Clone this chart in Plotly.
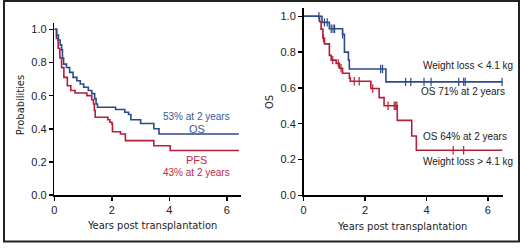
import plotly.graph_objects as go

W, H = 520, 249
BLUE = "#2b4a8c"
RED = "#b51e38"
TXT = "#222222"
ARIAL = "Liberation Sans, Arial, sans-serif"
NARROW = "Liberation Sans Narrow, Arial Narrow, DejaVu Sans Condensed, sans-serif"

# ---- Left panel: OS and PFS (years, probability) ----
os_t = [0, 0.08, 0.14, 0.2, 0.25, 0.28, 0.32, 0.42, 0.53, 0.65, 0.78, 0.9, 1.02, 1.18, 1.3,
        1.4, 1.45, 1.5, 2.13, 2.45, 2.58, 2.66, 3.0, 3.46, 3.64, 6.42]
os_p = [1.0, 0.965, 0.935, 0.906, 0.876, 0.827, 0.79, 0.77, 0.74, 0.71, 0.69, 0.67, 0.651, 0.631, 0.612,
        0.582, 0.55, 0.53, 0.516, 0.5, 0.486, 0.455, 0.432, 0.4, 0.369, 0.369]
pfs_t = [0, 0.07, 0.13, 0.19, 0.25, 0.33, 0.45, 0.57, 0.72, 1.13, 1.3, 1.36, 1.39, 1.42, 1.86, 1.93,
         2.0, 2.02, 2.3, 2.47, 3.46, 4.03, 6.42]
pfs_p = [1.0, 0.945, 0.886, 0.827, 0.769, 0.71, 0.66, 0.631, 0.616, 0.6, 0.575, 0.55, 0.51, 0.47, 0.455, 0.44,
         0.43, 0.382, 0.369, 0.329, 0.298, 0.269, 0.269]

# ---- Right panel: OS by weight loss ----
lo_t = [0, 0.6, 0.84, 1.27, 1.33, 1.46, 1.49, 2.68, 6.47]
lo_p = [1.0, 0.966, 0.93, 0.899, 0.8, 0.755, 0.706, 0.634, 0.634]
lo_cens = [0.5, 0.68, 0.77, 0.9, 0.96, 1.01, 1.27, 2.51, 2.57, 3.32, 3.49, 3.92, 4.15, 5.05, 5.21, 5.26, 6.46]
hi_t = [0, 0.52, 0.57, 0.63, 0.68, 0.84, 0.9, 1.06, 1.17, 1.27, 1.49, 1.52, 2.19, 2.46, 2.62,
        3.05, 3.52, 3.67, 6.47]
hi_p = [1.0, 0.97, 0.928, 0.877, 0.846, 0.782, 0.755, 0.737, 0.71, 0.682, 0.655, 0.637, 0.597, 0.546, 0.501,
        0.419, 0.332, 0.252, 0.252]
hi_cens = [0.65, 0.95, 1.13, 1.22, 1.65, 1.81, 2.25, 2.75, 2.95, 3.0, 3.04, 4.87, 5.21]

x_ticks = [0, 2, 4, 6]
y_ticks = [0, 0.2, 0.4, 0.6, 0.8, 1.0]


def step_at(ts, ps, t):
    v = ps[0]
    for ti, pi in zip(ts, ps):
        if ti <= t:
            v = pi
    return v


fig = go.Figure()

def curve(t, p, color, xa, ya):
    fig.add_trace(go.Scatter(x=t, y=p, mode="lines", line=dict(color=color, width=1.6, shape="hv"),
                             xaxis=xa, yaxis=ya, showlegend=False, hoverinfo="skip"))

def cens(ts, ps, c, color, xa, ya):
    fig.add_trace(go.Scatter(x=c, y=[step_at(ts, ps, v) for v in c], mode="markers",
                             marker=dict(symbol="line-ns", size=6, line=dict(color=color, width=1.2)),
                             xaxis=xa, yaxis=ya, showlegend=False, hoverinfo="skip"))

curve(pfs_t, pfs_p, RED, "x", "y")
curve(os_t, os_p, BLUE, "x", "y")
curve(hi_t, hi_p, RED, "x2", "y2")
curve(lo_t, lo_p, BLUE, "x2", "y2")
cens(hi_t, hi_p, hi_cens, RED, "x2", "y2")
cens(lo_t, lo_p, lo_cens, BLUE, "x2", "y2")

axis_common = dict(showline=True, linecolor="black", linewidth=1.6, ticks="outside", ticklen=4,
                   tickwidth=1.4, tickcolor="black", showgrid=False, zeroline=False,
                   tickfont=dict(family=ARIAL, size=11, color=TXT))

fig.update_layout(
    width=W, height=H, margin=dict(l=0, r=0, t=0, b=0),
    paper_bgcolor="white", plot_bgcolor="white",
    xaxis=dict(domain=[51.7 / W, 239.6 / W], range=[0, 6.5], tickvals=x_ticks, anchor="y", **axis_common),
    yaxis=dict(domain=[(H - 200) / H, (H - 23.2) / H], range=[0, 1.04], tickvals=y_ticks,
               tickformat=".1f", anchor="x", **axis_common),
    xaxis2=dict(domain=[302.3 / W, 503.2 / W], range=[0, 6.5], tickvals=x_ticks, anchor="y2", **axis_common),
    yaxis2=dict(domain=[(H - 200.3) / H, (H - 8.4) / H], range=[0, 1.045], tickvals=y_ticks,
                tickformat=".1f", anchor="x2", **axis_common),
)

ann = []
def a(text, x, y, xref, yref, color=TXT, family=ARIAL, size=10, xanchor="center", angle=0):
    ann.append(dict(text=text, x=x, y=y, xref=xref, yref=yref, showarrow=False, xanchor=xanchor,
                    yanchor="middle", textangle=angle, font=dict(family=family, size=size, color=color)))

a("53% at 2 years", 4.96, 0.476, "x", "y", color="#3b5894")
a("OS", 4.96, 0.396, "x", "y", color="#3b5894", size=11)
a("PFS", 4.96, 0.21, "x", "y", color="#c0283f", size=11)
a("43% at 2 years", 4.96, 0.134, "x", "y", color="#c0283f")
a("Weight loss &lt; 4.1 kg", 3.82, 0.723, "x2", "y2", xanchor="left")
a("OS 71% at 2 years", 3.77, 0.579, "x2", "y2", xanchor="left")
a("OS 64% at 2 years", 3.82, 0.328, "x2", "y2", xanchor="left")
a("Weight loss &gt; 4.1 kg", 3.82, 0.188, "x2", "y2", xanchor="left")
a("Years post transplantation", 150 / W, (H - 231) / H, "paper", "paper", family=NARROW, size=11)
a("Years post transplantation", 401 / W, (H - 232) / H, "paper", "paper", family=NARROW, size=11)
a("Probabilities", 17 / W, (H - 108) / H, "paper", "paper", family=NARROW, size=11, angle=-90)
a("OS", 268 / W, (H - 104) / H, "paper", "paper", family=NARROW, size=11, angle=-90)
fig.update_layout(annotations=ann)

fig.add_shape(type="rect", xref="paper", yref="paper", x0=1 / W, x1=1 - 1 / W, y0=1.5 / H, y1=1 - 1 / H,
              line=dict(color="#222222", width=2))

fig.write_html("out.html", config={"displayModeBar": False, "staticPlot": True},
               post_script="document.body.style.margin='0';document.body.style.overflow='hidden';")
